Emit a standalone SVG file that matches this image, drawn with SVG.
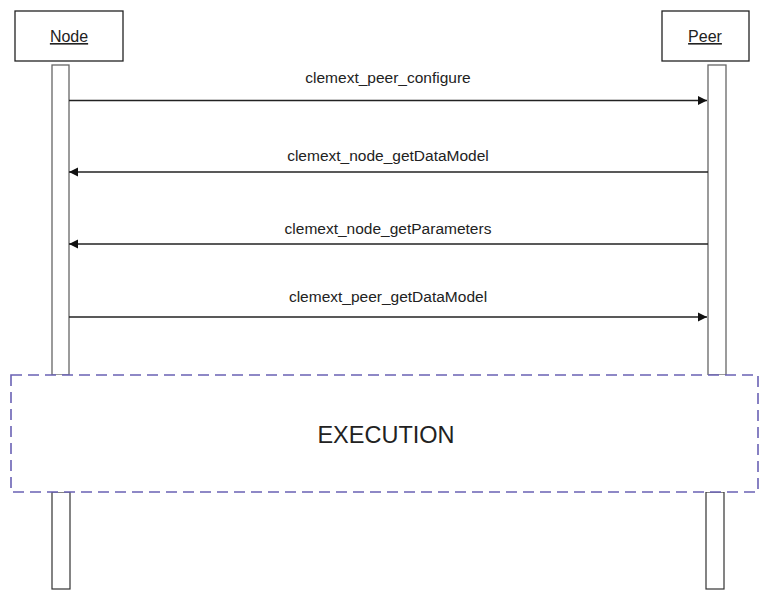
<svg xmlns="http://www.w3.org/2000/svg" width="764" height="592" viewBox="0 0 764 592">
<style>
.box{fill:#fff;stroke:#222;stroke-width:1.3}
.bar{fill:#fff;stroke:#666;stroke-width:1.3}
.bar2{fill:#fff;stroke:#333;stroke-width:1.2}
.msg{stroke:#222;stroke-width:1.3;fill:none}
.t{font-family:"Liberation Sans",Arial,sans-serif;fill:#222;text-anchor:middle}
.lbl{font-size:15.5px}
.hd{font-size:16px;text-decoration:underline}
.exec{fill:#fff;stroke:#6a62b4;stroke-width:1.6;stroke-dasharray:11 6}
</style>
<defs>
<marker id="ah" viewBox="0 0 10 10" refX="10" refY="5" markerWidth="9" markerHeight="11" markerUnits="userSpaceOnUse" orient="auto">
<path d="M0,0 L10,5 L0,10 Z" fill="#111"/>
</marker>
</defs>
<g id="node-Node">
<rect class="box" x="15" y="11" width="108" height="50"/>
<text class="t hd" x="69" y="42">Node</text>
<rect class="bar" x="52" y="65" width="17" height="310"/>
<rect class="bar2" x="52" y="492" width="18" height="97"/>
</g>
<g id="node-Peer">
<rect class="box" x="662" y="11" width="87" height="50"/>
<text class="t hd" x="705" y="42">Peer</text>
<rect class="bar" x="708" y="65" width="18" height="310"/>
<rect class="bar2" x="706" y="492" width="18" height="97"/>
</g>
<g id="connectors">
<line class="msg" x1="69" y1="100.5" x2="707" y2="100.5" marker-end="url(#ah)"/>
<line class="msg" x1="708" y1="172" x2="69" y2="172" marker-end="url(#ah)"/>
<line class="msg" x1="708" y1="244" x2="69" y2="244" marker-end="url(#ah)"/>
<line class="msg" x1="69" y1="317" x2="707" y2="317" marker-end="url(#ah)"/>
<text class="t lbl" x="388" y="83">clemext_peer_configure</text>
<text class="t lbl" x="388" y="161">clemext_node_getDataModel</text>
<text class="t lbl" x="388" y="234">clemext_node_getParameters</text>
<text class="t lbl" x="388" y="302">clemext_peer_getDataModel</text>
</g>
<g id="node-Execution">
<rect class="exec" x="11" y="375" width="747" height="117"/>
<text class="t" x="386" y="443" font-size="23.5">EXECUTION</text>
</g>
</svg>
